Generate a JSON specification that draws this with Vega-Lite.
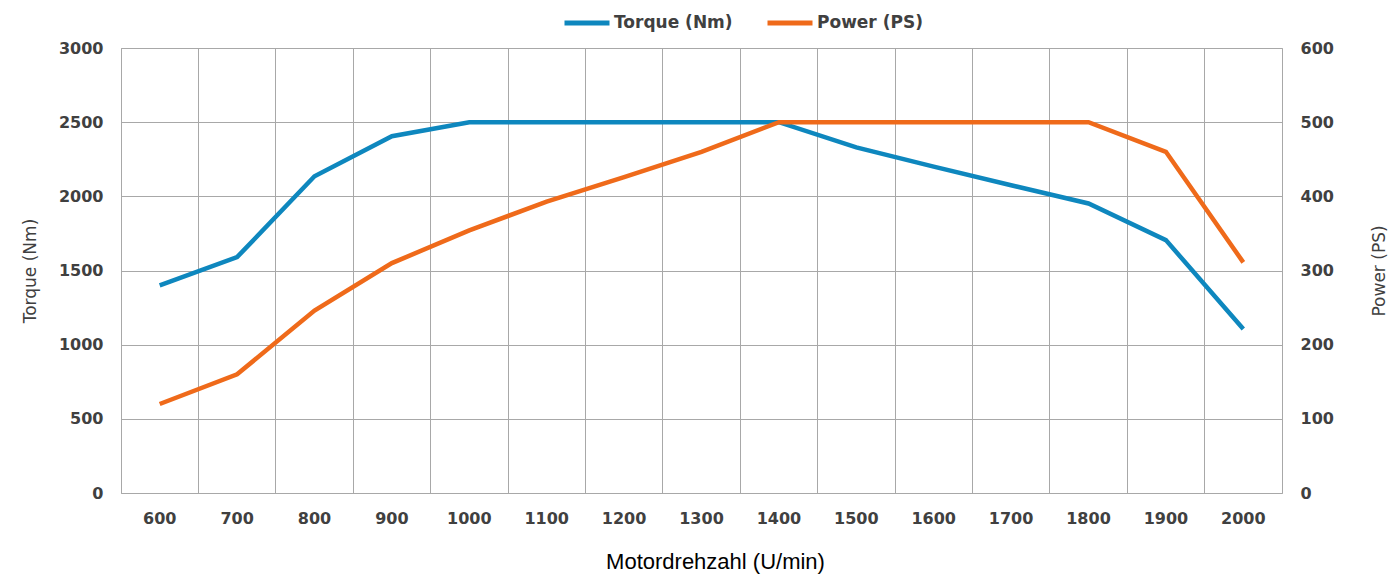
{
  "$schema": "https://vega.github.io/schema/vega-lite/v6.json",
  "width": 1161,
  "height": 445,
  "autosize": {"type": "none"},
  "padding": {"left": 121, "top": 48, "right": 110, "bottom": 83},
  "background": "white",
  "config": {
    "view": {"stroke": "#a8a8a8", "strokeWidth": 1},
    "axis": {
      "labelFont": "DejaVu Sans",
      "labelFontWeight": "bold",
      "labelFontSize": 16,
      "labelColor": "#404040",
      "titleFont": "DejaVu Sans",
      "titleFontWeight": "normal",
      "titleFontSize": 17,
      "titleColor": "#404040",
      "gridColor": "#a8a8a8",
      "gridOpacity": 1,
      "ticks": false,
      "domain": false
    }
  },
  "data": {
    "values": [
      {"rpm": 600, "torque": 1400, "power": 120},
      {"rpm": 700, "torque": 1590, "power": 160},
      {"rpm": 800, "torque": 2135, "power": 246},
      {"rpm": 900, "torque": 2405, "power": 310},
      {"rpm": 1000, "torque": 2500, "power": 354},
      {"rpm": 1100, "torque": 2500, "power": 393},
      {"rpm": 1200, "torque": 2500, "power": 426},
      {"rpm": 1300, "torque": 2500, "power": 460},
      {"rpm": 1400, "torque": 2500, "power": 500},
      {"rpm": 1500, "torque": 2330, "power": 500},
      {"rpm": 1600, "torque": 2200, "power": 500},
      {"rpm": 1700, "torque": 2075, "power": 500},
      {"rpm": 1800, "torque": 1952, "power": 500},
      {"rpm": 1900, "torque": 1705, "power": 460},
      {"rpm": 2000, "torque": 1105, "power": 311}
    ]
  },
  "encoding": {
    "x": {
      "field": "rpm",
      "type": "ordinal",
      "scale": {"type": "band", "paddingInner": 0, "paddingOuter": 0},
      "bandPosition": 0.5,
      "axis": {
        "title": "Motordrehzahl (U/min)",
        "bandPosition": 0,
        "labelAngle": 0,
        "labelPadding": 17,
        "grid": true,
        "titleFont": "Liberation Sans",
        "titleFontSize": 22,
        "titleFontWeight": "normal",
        "titleColor": "#000000",
        "titlePadding": 25,
        "titleX": 594
      }
    }
  },
  "layer": [
    {
      "mark": {"type": "line", "strokeWidth": 4.5},
      "encoding": {
        "y": {
          "field": "torque",
          "type": "quantitative",
          "scale": {"domain": [0, 3000], "nice": false},
          "axis": {
            "title": "Torque (Nm)",
            "format": "d",
            "values": [0, 500, 1000, 1500, 2000, 2500, 3000],
            "grid": true,
            "labelPadding": 18,
            "titlePadding": 19
          }
        },
        "color": {
          "datum": "Torque (Nm)",
          "type": "nominal",
          "scale": {"domain": ["Torque (Nm)", "Power (PS)"], "range": ["#0e87be", "#ef6a1a"]},
          "legend": {
            "orient": "none",
            "legendX": 441,
            "legendY": -50,
            "direction": "horizontal",
            "title": null,
            "symbolType": "stroke",
            "symbolSize": 2025,
            "symbolStrokeWidth": 5,
            "labelFont": "DejaVu Sans",
            "labelFontSize": 17,
            "labelFontWeight": "bold",
            "labelColor": "#404040",
            "labelOffset": 2,
            "columnPadding": 24
          }
        }
      }
    },
    {
      "mark": {"type": "line", "strokeWidth": 4.5},
      "encoding": {
        "y": {
          "field": "power",
          "type": "quantitative",
          "scale": {"domain": [0, 600], "nice": false},
          "axis": {
            "title": "Power (PS)",
            "orient": "right",
            "format": "d",
            "values": [0, 100, 200, 300, 400, 500, 600],
            "grid": false,
            "labelPadding": 18,
            "titleAngle": 270,
            "titlePadding": 55
          }
        },
        "color": {"datum": "Power (PS)", "type": "nominal"}
      }
    }
  ],
  "resolve": {"scale": {"y": "independent"}}
}
